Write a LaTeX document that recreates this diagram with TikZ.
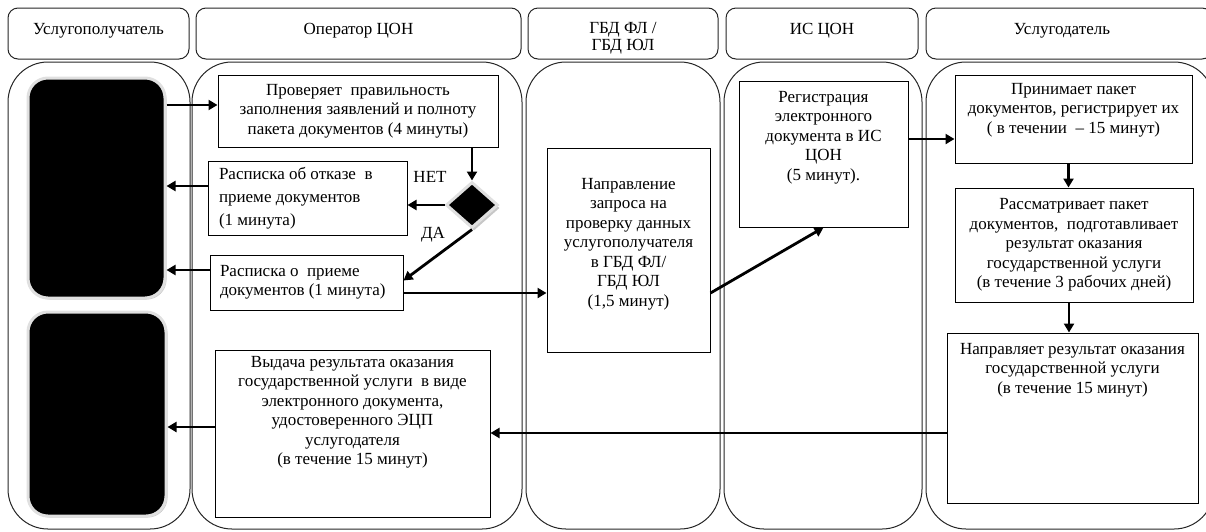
\documentclass[tikz,border=0pt]{standalone}
\usepackage{fontspec}
\setmainfont{Liberation Serif}
\usetikzlibrary{arrows.meta,shapes.geometric,shadows,calc}

% text block of fixed size: #1 width, #2 height, #3 top gap, #4 text
\newcommand{\topcell}[4]{\parbox[c][#2][t]{#1}{\centering\vspace*{#3}#4\par}}
\newcommand{\midcell}[3]{\parbox[c][#2][c]{#1}{\centering #3\par}}
\newcommand{\leftcell}[4]{\parbox[c][#2][c]{#1}{\raggedright\leftskip=#3 #4\par}}

\tikzset{
  every node/.style={font=\fontsize{17}{19.5}\selectfont},
  lanehead/.style={draw=black!85, line width=1pt, rounded corners=10pt, inner sep=0pt, fill=white},
  lanebody/.style={draw=black!85, line width=1pt, rounded corners=40pt},
  stepbox/.style={draw=black, line width=1pt, inner sep=0pt, fill=white},
  actor/.style={fill=black, draw=black!12, line width=3pt, rounded corners=20pt,
    inner sep=0pt, drop shadow={shadow xshift=1.5pt, shadow yshift=-1.5pt, fill=black!22, opacity=1}},
  choice/.style={diamond, fill=black, draw=black!12, line width=3pt, inner sep=0pt,
    minimum width=52pt, minimum height=46pt,
    drop shadow={shadow xshift=2pt, shadow yshift=-3pt, fill=black!22, opacity=1}},
  flow/.style={line width=2.8pt, -{Triangle[length=9pt,width=10pt]}},
  tag/.style={inner sep=0pt},
}

\begin{document}
\begin{tikzpicture}[x=1pt, y=-1pt]
\useasboundingbox (0,0) rectangle (1206,531);
\clip (0,0) rectangle (1206,531);

% swimlane bodies
\draw[lanebody] (8,62) rectangle (190,529);
\draw[lanebody] (192,62) rectangle (522,529);
\draw[lanebody] (526,62) rectangle (720,529);
\draw[lanebody] (724,62) rectangle (922,529);
\draw[lanebody] (926,62) rectangle (1214,529);

% swimlane headers
\node[lanehead] (h1) at (98.5,33.5) {\topcell{181pt}{51pt}{15pt}{Услугополучатель}};
\node[lanehead] (h2) at (358.5,33.5) {\topcell{325pt}{51pt}{15pt}{Оператор ЦОН}};
\node[lanehead] (h3) at (623,33.5) {\topcell{190pt}{51pt}{14pt}{ГБД ФЛ /\\[-2pt]ГБД ЮЛ}};
\node[lanehead] (h4) at (822,33.5) {\topcell{192pt}{51pt}{15pt}{ИС ЦОН}};
\node[lanehead] (h5) at (1069,33.5) {\topcell{286pt}{51pt}{15pt}{\hspace*{-14pt}Услугодатель}};

% service recipient
\node[actor, minimum width=137pt, minimum height=220pt] (A) at (96.5,188) {};
\node[actor, minimum width=138pt, minimum height=204pt] (B) at (97,414) {};

% operator
\node[stepbox] (P1) at (358,111) {\midcell{280pt}{72pt}{Проверяет~ правильность\\заполнения заявлений и полноту\\пакета документов (4 минуты)}};
\node[stepbox] (P2) at (307.5,198) {\leftcell{199pt}{74pt}{11pt}{\fontsize{17}{23}\selectfont Расписка об отказе~ в\\приеме документов\\(1 минута)}};
\node[stepbox] (P3) at (306.5,282.5) {\leftcell{193pt}{55pt}{10pt}{Расписка о~ приеме\\документов (1 минута)}};
\node[choice] (D) at (472,205) {};
\node[tag] (no) at (430,177) {НЕТ};
\node[tag] (yes) at (433,235) {ДА};
\node[stepbox] (P4) at (352.5,433.5) {\topcell{275pt}{167pt}{6pt}{Выдача результата оказания\\государственной услуги~ в виде\\электронного документа,\\удостоверенного ЭЦП\\услугодателя\\(в течение 15 минут)}};

% state databases
\node[stepbox] (G1) at (628.5,250) {\topcell{163pt}{204pt}{30pt}{Направление\\запроса на\\проверку данных\\услугополучателя\\в ГБД ФЛ/\\ГБД ЮЛ\\(1,5 минут)}};

% information system
\node[stepbox] (R1) at (823.5,154) {\topcell{169pt}{146pt}{10pt}{Регистрация\\электронного\\документа в ИС\\ЦОН\\(5 минут).}};

% service provider
\node[stepbox] (U1) at (1073.5,119) {\topcell{237pt}{88pt}{8pt}{Принимает пакет\\документов, регистрирует их\\( в течении~ – 15 минут)}};
\node[stepbox] (U2) at (1074,245) {\midcell{238pt}{114pt}{Рассматривает пакет\\документов,~ подготавливает\\результат оказания\\государственной услуги\\(в течение 3 рабочих дней)}};
\node[stepbox] (U3) at (1072.5,418) {\topcell{251pt}{170pt}{10pt}{Направляет результат оказания\\государственной услуги\\(в течение 15 минут)}};

% connectors
\draw[flow] ([yshift=6pt]P1.west -| A.east) -- ([yshift=6pt]P1.west);
\draw[flow] (D.north |- P1.south) -- (D.north);
\draw[flow] (D.west) -- (D.west -| P2.east);
\draw[flow] ([yshift=12pt]P2.west) -- ([yshift=12pt]P2.west -| A.east);
\draw[flow] (D.south) -- ([yshift=2pt]P3.east);
\draw[flow] ([yshift=12.5pt]P3.west) -- ([yshift=12.5pt]P3.west -| A.east);
\draw[flow] ([yshift=-10.5pt]P3.east) -- ([yshift=-10.5pt]P3.east -| G1.west);
\draw[flow] ([yshift=-43pt]G1.east) -- (R1.south);
\draw[flow] ([yshift=15pt]R1.east) -- ([yshift=15pt]R1.east -| U1.west);
\draw[flow] ([xshift=-5pt]U1.south) -- ([xshift=-5pt]U1.south |- U2.north);
\draw[flow] ([xshift=-5pt]U2.south) -- ([xshift=-5pt]U2.south |- U3.north);
\draw[flow] ([yshift=-15pt]U3.west) -- ([yshift=-15pt]U3.west -| P4.east);
\draw[flow] ([yshift=6.5pt]P4.west) -- ([yshift=6.5pt]P4.west -| B.east);
\end{tikzpicture}
\end{document}
